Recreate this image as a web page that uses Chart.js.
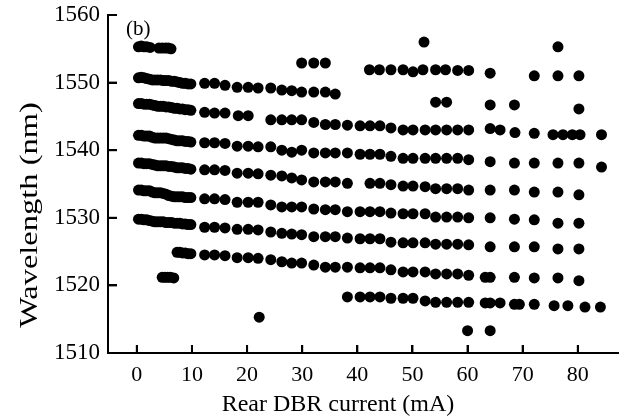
<!DOCTYPE html>
<html>
<head>
<meta charset="utf-8">
<script src="https://cdn.jsdelivr.net/npm/chart.js@4/dist/chart.umd.min.js"></script>
<style>
  html, body { margin: 0; padding: 0; background: #fff; }
</style>
</head>
<body>
<canvas id="c" width="623" height="418"></canvas>
<script>
// Axis ticks and labels
const xTicks = [0, 10, 20, 30, 40, 50, 60, 70, 80];
const yTicks = [1510, 1520, 1530, 1540, 1550, 1560];
const xTitle = 'Rear DBR current (mA)';
const yTitle = 'Wavelength (nm)';
const panelLabel = '(b)';

// Lasing wavelength (nm) vs rear DBR current (mA), one array per mode branch
const modeA = [[0.3,1555.3],[0.8,1555.4],[1.3,1555.3],[1.8,1555.3],[2.4,1555.2],[4.0,1555.1],[4.6,1555.1],[5.2,1555.1],[5.7,1555.1],[6.2,1555.0]];
const modeB = [[0.3,1550.7],[0.8,1550.8],[1.3,1550.7],[1.8,1550.6],[2.3,1550.5],[2.8,1550.4],[3.3,1550.4],[3.8,1550.4],[4.3,1550.4],[4.8,1550.3],[5.3,1550.3],[5.8,1550.3],[6.3,1550.2],[6.8,1550.2],[7.3,1550.1],[7.8,1550.0],[8.3,1549.9],[8.8,1549.9],[9.3,1549.8],[9.8,1549.8],[12.3,1549.9],[14.1,1549.9],[16.0,1549.6],[18.2,1549.3],[20.2,1549.3],[22.0,1549.2],[24.3,1549.2],[26.3,1548.9],[28.1,1548.8],[29.9,1548.6],[32.1,1548.6],[34.2,1548.6],[36.0,1548.3]];
const modeC = [[0.3,1546.9],[0.8,1546.9],[1.3,1546.8],[1.8,1546.8],[2.3,1546.8],[2.8,1546.7],[3.3,1546.6],[3.8,1546.5],[4.3,1546.5],[4.8,1546.5],[5.3,1546.4],[5.8,1546.4],[6.3,1546.3],[6.8,1546.2],[7.3,1546.2],[7.8,1546.1],[8.3,1546.1],[8.8,1546.0],[9.3,1546.0],[9.8,1545.9],[12.3,1545.6],[14.1,1545.5],[16.0,1545.5],[18.4,1545.1],[20.2,1545.1],[24.3,1544.5],[26.3,1544.5],[28.1,1544.5],[29.9,1544.5],[32.1,1544.1],[34.2,1543.8],[36.0,1543.8],[38.2,1543.7],[40.5,1543.6],[42.3,1543.6],[44.1,1543.6],[46.1,1543.3],[48.3,1543.0],[50.1,1543.0],[52.3,1543.0],[54.2,1543.0],[56.2,1543.0],[58.2,1543.0],[60.2,1543.0],[64.1,1543.2],[65.9,1543.0],[68.6,1542.6],[72.1,1542.5],[75.5,1542.3],[77.3,1542.3],[79.0,1542.3],[80.4,1542.3],[84.3,1542.3]];
const modeD = [[0.3,1542.2],[0.8,1542.2],[1.3,1542.1],[1.8,1542.1],[2.3,1542.1],[2.8,1541.9],[3.3,1541.8],[3.8,1541.8],[4.3,1541.8],[4.8,1541.8],[5.3,1541.8],[5.8,1541.7],[6.3,1541.6],[6.8,1541.5],[7.3,1541.4],[7.8,1541.4],[8.3,1541.4],[8.8,1541.3],[9.3,1541.3],[9.8,1541.2],[12.3,1541.1],[14.1,1541.1],[16.0,1541.0],[18.2,1540.6],[20.2,1540.6],[22.0,1540.5],[24.3,1540.5],[26.3,1540.0],[28.1,1539.7],[29.9,1540.0],[32.1,1539.6],[34.2,1539.6],[36.0,1539.6],[38.2,1539.6],[40.5,1539.4],[42.3,1539.4],[44.1,1539.4],[46.1,1539.1],[48.3,1538.8],[50.1,1538.8],[52.3,1538.8],[54.2,1538.8],[56.2,1538.8],[58.2,1538.8],[60.2,1538.6],[64.1,1538.3],[68.5,1538.1],[72.1,1538.1],[76.4,1538.1],[80.2,1538.1],[84.3,1537.5]];
const modeE = [[0.3,1538.1],[0.8,1538.1],[1.3,1538.0],[1.8,1538.0],[2.3,1538.0],[2.8,1537.9],[3.3,1537.8],[3.8,1537.7],[4.3,1537.7],[4.8,1537.7],[5.3,1537.7],[5.8,1537.6],[6.3,1537.6],[6.8,1537.5],[7.3,1537.4],[7.8,1537.4],[8.3,1537.4],[8.8,1537.3],[9.3,1537.3],[9.8,1537.2],[12.3,1537.1],[14.1,1537.1],[16.0,1537.0],[18.2,1536.6],[20.2,1536.6],[22.0,1536.5],[24.3,1536.3],[26.3,1536.2],[28.1,1535.9],[29.9,1535.6],[32.1,1535.3],[34.2,1535.3],[36.0,1535.3],[38.2,1535.1],[42.3,1535.1],[44.1,1535.1],[46.1,1534.9],[48.3,1534.7],[50.1,1534.7],[52.3,1534.6],[54.2,1534.3],[56.2,1534.3],[58.2,1534.3],[60.2,1534.1],[64.1,1534.1],[68.5,1534.1],[72.1,1533.8],[76.4,1533.8],[80.2,1533.4]];
const modeF = [[0.3,1534.1],[0.8,1534.1],[1.3,1534.0],[1.8,1534.0],[2.3,1534.0],[2.8,1533.8],[3.3,1533.7],[3.8,1533.7],[4.3,1533.7],[4.8,1533.6],[5.3,1533.5],[5.8,1533.3],[6.3,1533.2],[6.8,1533.1],[7.3,1533.1],[7.8,1533.1],[8.3,1533.1],[8.8,1533.0],[9.3,1533.0],[9.8,1533.0],[12.3,1532.8],[14.1,1532.8],[16.0,1532.7],[18.2,1532.3],[20.2,1532.3],[22.0,1532.3],[24.3,1531.9],[26.3,1531.6],[28.1,1531.6],[29.9,1531.6],[32.1,1531.3],[34.2,1531.2],[36.0,1531.2],[38.2,1530.9],[40.5,1530.9],[42.3,1530.9],[44.1,1530.9],[46.1,1530.7],[48.3,1530.6],[50.1,1530.6],[52.3,1530.6],[54.2,1530.1],[56.2,1530.1],[58.2,1530.1],[60.2,1530.0],[64.1,1530.0],[68.5,1529.8],[72.1,1529.7],[76.4,1529.2],[80.2,1529.2]];
const modeG = [[0.3,1529.8],[0.8,1529.8],[1.3,1529.7],[1.8,1529.7],[2.3,1529.6],[2.8,1529.5],[3.3,1529.4],[3.8,1529.4],[4.3,1529.4],[4.8,1529.4],[5.3,1529.3],[5.8,1529.3],[6.3,1529.3],[6.8,1529.2],[7.3,1529.2],[7.8,1529.2],[8.3,1529.1],[8.8,1529.1],[9.3,1529.0],[9.8,1529.0],[12.3,1528.6],[14.1,1528.6],[16.0,1528.5],[18.2,1528.3],[20.2,1528.3],[22.0,1528.2],[24.3,1527.9],[26.3,1527.7],[28.1,1527.6],[29.9,1527.5],[32.1,1527.2],[34.2,1527.2],[36.0,1527.2],[38.2,1527.0],[40.5,1526.9],[42.3,1526.9],[44.1,1526.9],[46.1,1526.4],[48.3,1526.3],[50.1,1526.3],[52.3,1526.3],[54.2,1526.1],[56.2,1526.1],[58.2,1526.1],[60.2,1526.0],[64.1,1525.7],[68.5,1525.7],[72.1,1525.7],[76.4,1525.4],[80.2,1525.4]];
const modeH = [[7.3,1524.9],[7.8,1524.9],[8.3,1524.8],[8.8,1524.8],[9.3,1524.7],[9.8,1524.7],[12.3,1524.5],[14.1,1524.5],[16.0,1524.4],[18.2,1524.1],[20.2,1524.1],[22.0,1524.0],[24.3,1523.8],[26.3,1523.5],[28.1,1523.3],[29.9,1523.3],[32.1,1523.0],[34.2,1522.7],[36.0,1522.7],[38.2,1522.7],[40.5,1522.6],[42.3,1522.6],[44.1,1522.6],[46.1,1522.3],[48.3,1522.0],[50.1,1522.0],[52.3,1522.0],[54.2,1521.7],[56.2,1521.7],[58.2,1521.7],[60.2,1521.5],[63.2,1521.2],[64.1,1521.2],[68.5,1521.2],[72.1,1521.1],[76.4,1521.1],[80.2,1520.7]];
const modeI = [[4.6,1521.2],[5.1,1521.2],[5.6,1521.2],[6.1,1521.2],[6.7,1521.1]];
const modeJ = [[38.2,1518.3],[40.5,1518.3],[42.3,1518.3],[44.1,1518.3],[46.1,1518.1],[48.3,1518.1],[50.1,1518.1],[52.3,1517.7],[54.2,1517.5],[56.2,1517.5],[58.2,1517.5],[60.2,1517.5],[63.2,1517.4],[64.1,1517.4],[65.9,1517.4],[68.5,1517.2],[69.4,1517.2],[72.1,1517.2],[75.7,1517.0],[78.2,1517.0],[81.3,1516.8],[84.1,1516.8]];
const modeK = [[29.9,1552.9],[32.1,1552.9],[34.2,1552.9],[42.2,1551.9],[44.0,1551.9],[46.1,1551.9],[48.3,1551.9],[50.1,1551.6],[51.9,1551.9],[54.2,1551.9],[56.0,1551.9],[58.2,1551.8],[60.2,1551.8],[64.1,1551.4],[72.1,1551.0],[76.4,1551.0],[80.2,1551.0]];
const isolated = [[52.1,1556.0],[76.4,1555.3],[54.2,1547.1],[56.2,1547.1],[64.1,1546.7],[68.5,1546.7],[80.2,1546.1],[22.2,1515.3],[60.0,1513.3],[64.1,1513.3]];

const modes = [modeA, modeB, modeC, modeD, modeE, modeF, modeG, modeH, modeI, modeJ, modeK, isolated];

const FONT = "'Liberation Serif', 'Times New Roman', serif";

const titlesPlugin = {
  id: 'titlesPlugin',
  afterDraw(chart) {
    const { ctx, chartArea } = chart;
    const sx = chart.scales.x, sy = chart.scales.y;
    ctx.save();
    ctx.fillStyle = '#000000';
    // axis lines and inward ticks, positioned by the chart's own scales
    ctx.fillRect(chartArea.left - 1, chartArea.top, 2, chartArea.bottom - chartArea.top + 1);
    ctx.fillRect(chartArea.left - 1, chartArea.bottom - 1, chartArea.right - chartArea.left + 1, 2);
    xTicks.forEach(v => {
      const px = sx.getPixelForValue(v);
      ctx.fillRect(px - 1, chartArea.bottom - 8, 2, 8);
    });
    yTicks.forEach(v => {
      const py = sy.getPixelForValue(v);
      ctx.fillRect(chartArea.left, py - 1, 9, 2);
    });

    ctx.font = '24px ' + FONT;
    ctx.textAlign = 'center';
    ctx.textBaseline = 'alphabetic';
    ctx.fillText(xTitle, 338, 411);

    ctx.save();
    ctx.font = '25px ' + FONT;
    ctx.translate(37, 215);
    ctx.rotate(-Math.PI / 2);
    ctx.scale(1.3, 1);
    ctx.fillText(yTitle, 0, 0);
    ctx.restore();

    ctx.font = '21px ' + FONT;
    ctx.textAlign = 'left';
    ctx.fillText(panelLabel, 126, 35);
    ctx.restore();
  }
};

new Chart(document.getElementById('c'), {
  type: 'scatter',
  data: {
    datasets: modes.map((m, i) => ({
      label: 'mode ' + i,
      data: m.map(p => ({ x: p[0], y: p[1] })),
      backgroundColor: '#000',
      borderWidth: 0,
      pointRadius: 5.5,
      pointHoverRadius: 5.5
    }))
  },
  options: {
    responsive: false,
    animation: false,
    devicePixelRatio: 1,
    layout: { padding: { top: 15, right: 2, left: 0, bottom: 0 } },
    plugins: { legend: { display: false }, tooltip: { enabled: false } },
    scales: {
      x: {
        type: 'linear',
        min: -5.23,
        max: 87.2,
        grid: { display: true, drawOnChartArea: false, drawTicks: true, tickLength: -8, tickWidth: 2, tickColor: '#000', color: '#000', lineWidth: 2 },
        border: { display: true, color: '#000', width: 2 },
        ticks: { autoSkip: false, maxRotation: 0, padding: 17, color: '#000', font: { family: FONT, size: 22 }, callback: v => String(v) },
        afterBuildTicks: s => { s.ticks = xTicks.map(v => ({ value: v })); },
        afterFit: s => { s.height = 65; s.paddingLeft = 0; s.paddingRight = 0; }
      },
      y: {
        type: 'linear',
        min: 1510,
        max: 1560,
        grid: { display: true, drawOnChartArea: false, drawTicks: true, tickLength: -9, tickWidth: 2, tickColor: '#000', color: '#000', lineWidth: 2 },
        border: { display: true, color: '#000', width: 2 },
        ticks: { autoSkip: false, padding: 17, color: '#000', font: { family: FONT, size: 23 }, callback: v => String(v) },
        afterBuildTicks: s => { s.ticks = yTicks.map(v => ({ value: v })); },
        afterFit: s => { s.width = 108; s.paddingTop = 0; s.paddingBottom = 0; }
      }
    }
  },
  plugins: [titlesPlugin]
});
</script>
</body>
</html>
